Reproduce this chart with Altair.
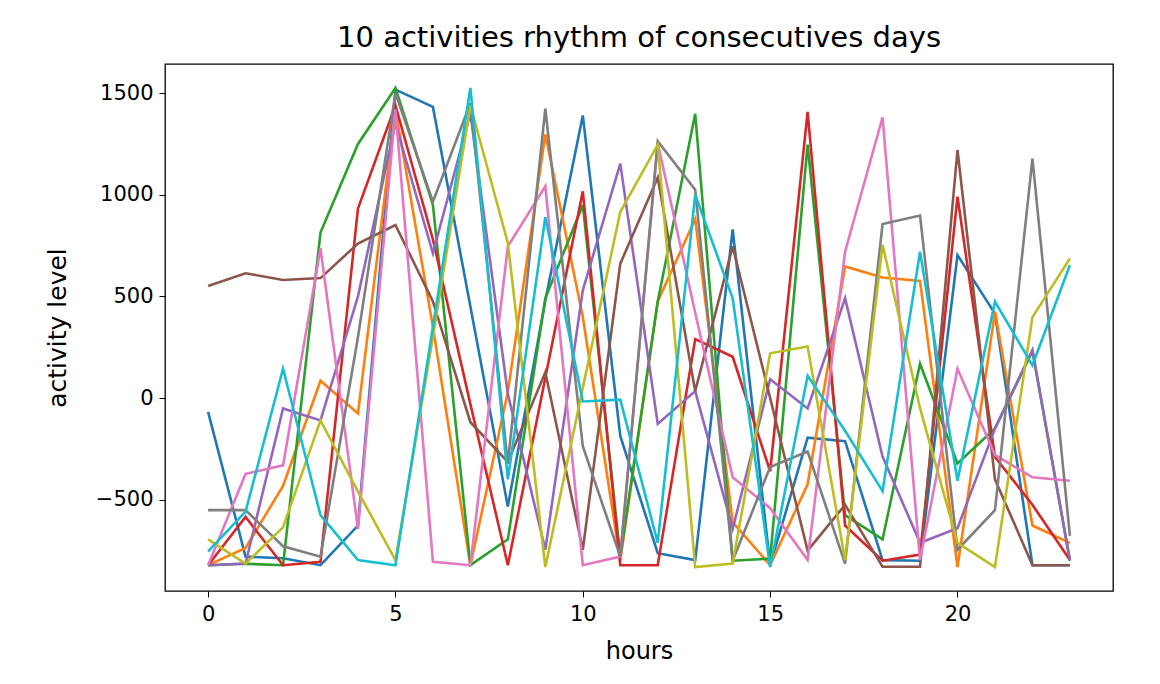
import altair as alt
import pandas as pd

hours = list(range(24))

series_names = ["day 1", "day 2", "day 3", "day 4", "day 5",
                "day 6", "day 7", "day 8", "day 9", "day 10"]
colors = ["#1f77b4", "#ff7f0e", "#2ca02c", "#d62728", "#9467bd",
          "#8c564b", "#e377c2", "#7f7f7f", "#bcbd22", "#17becf"]

day1 = [-68, -780, -788, -822, -627, 1517, 1432, 450, -534, 480, 1390, -186,
        -763, -797, 830, -822, -195, -212, -797, -800, 703, 415, -822, -822]
day2 = [-822, -737, -432, 85, -76, 1420, 350, -822, 30, 1297, 400, -800,
        475, 881, -610, -822, -424, 647, 593, 576, -831, 424, -627, -712]
day3 = [-822, -815, -822, 814, 1250, 1525, 950, -822, -695, 491, 950, -780,
        475, 1398, -800, -790, 1246, -576, -695, 169, -322, -150, 230, -800]
day4 = [-822, -585, -822, -805, 932, 1440, 780, -30, -822, 100, 1017, -822,
        -822, 290, 203, -360, 1407, -627, -800, -770, 991, -290, -525, -797]
day5 = [-822, -814, -51, -110, 500, 1350, 712, 1400, 20, -746, 530, 1153,
        -127, 34, -644, 93, -51, 491, -288, -712, -640, -150, 237, -797]
day6 = [551, 614, 581, 590, 760, 851, 475, -119, -314, 127, -746, 661,
        1085, 34, 746, 0, -750, -525, -830, -830, 1220, -400, -822, -822]
day7 = [-822, -373, -331, 737, -644, 1420, -805, -822, 746, 1042, -822, -780,
        1254, 420, -390, -542, -797, 720, 1381, -797, 144, -280, -390, -407]
day8 = [-551, -551, -729, -780, 300, 1500, 966, 1450, -322, 1424, -237, -780,
        1263, 1025, -800, -339, -263, -814, 856, 898, -746, -551, 1178, -678]
day9 = [-695, -814, -636, -110, -460, -797, 300, 1440, 763, -831, 50, 915,
        1246, -831, -814, 220, 254, -797, 754, -50, -712, -831, 398, 686]
day10 = [-754, -559, 144, -576, -797, -822, 350, 1525, -400, 890, -17, -8,
         -712, 1000, 491, -831, 110, -161, -458, 720, -407, 475, 161, 653]

all_series = [day1, day2, day3, day4, day5, day6, day7, day8, day9, day10]

x_ticks = [0, 5, 10, 15, 20]
y_ticks = [-500, 0, 500, 1000, 1500]

rows = []
for idx, (name, vals) in enumerate(zip(series_names, all_series)):
    for h, v in zip(hours, vals):
        rows.append({"series": name, "order": idx, "hour": h, "level": v})
df = pd.DataFrame(rows)

font = "DejaVu Sans"

chart = alt.Chart(df).mark_line(strokeWidth=2.6, clip=True).encode(
    x=alt.X("hour:Q",
            scale=alt.Scale(domain=[-1.15, 24.15], nice=False, zero=False),
            axis=alt.Axis(values=x_ticks, title="hours", grid=False,
                          tickSize=6, tickColor="black", domain=False,
                          labelFontSize=21, labelFont=font, labelColor="black",
                          labelPadding=6, titleFontSize=24, titleFont=font,
                          titleFontWeight="normal", titleColor="black",
                          titlePadding=15)),
    y=alt.Y("level:Q",
            scale=alt.Scale(domain=[-949, 1643], nice=False, zero=False),
            axis=alt.Axis(values=y_ticks, title="activity level", grid=False,
                          format="d",
                          labelExpr="replace(datum.label, '-', '\u2212')",
                          tickSize=6, tickColor="black", domain=False,
                          labelFontSize=21, labelFont=font, labelColor="black",
                          labelPadding=6, titleFontSize=25, titleFont=font,
                          titleFontWeight="normal", titleColor="black",
                          titlePadding=25)),
    color=alt.Color("series:N",
                    scale=alt.Scale(domain=series_names, range=colors),
                    legend=None),
    detail="order:O",
).properties(
    width=948,
    height=527,
    background="white",
    title=alt.TitleParams("10 activities rhythm of consecutives days",
                          fontSize=29, font=font, fontWeight="normal",
                          color="black", anchor="middle", offset=11),
    autosize=alt.AutoSizeParams(type="none"),
    padding={"left": 157, "top": 56, "right": 35, "bottom": 80},
).configure_view(
    stroke="black", strokeWidth=1.3
)

chart.save("out.html", embed_options={"renderer": "svg", "actions": False})
